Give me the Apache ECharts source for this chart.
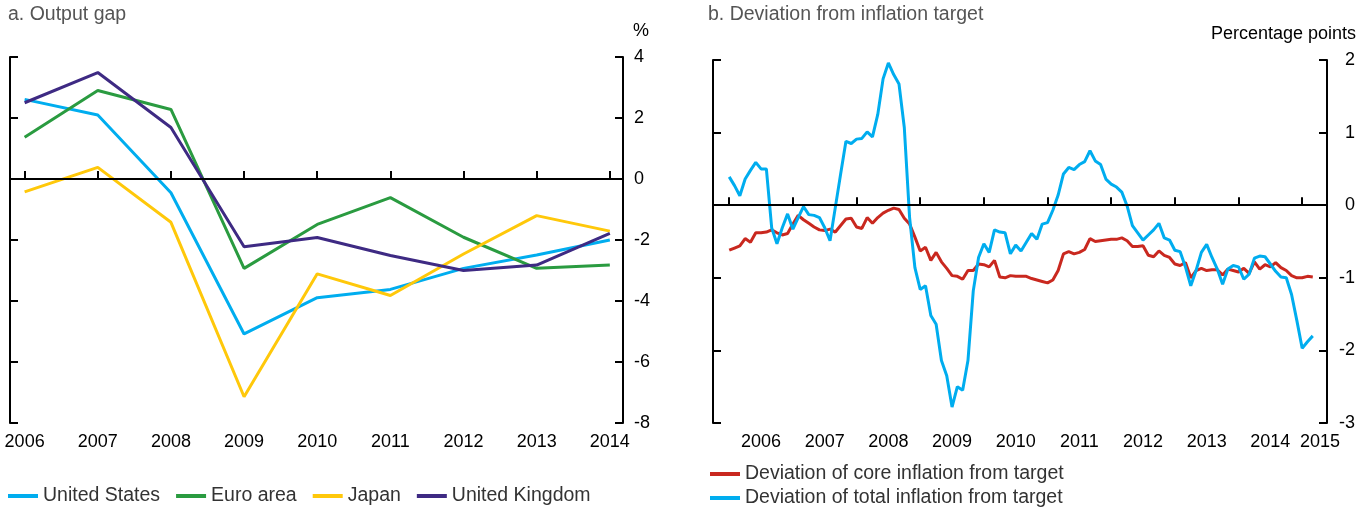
<!DOCTYPE html>
<html>
<head>
<meta charset="utf-8">
<script src="https://cdn.jsdelivr.net/npm/echarts@6/dist/echarts.min.js"></script>
<style>
  html, body { margin: 0; padding: 0; background: #fff; }
  #chart { width: 1367px; height: 508px; }
</style>
</head>
<body>
<div id="chart"></div>
<script>
// panel a: output gap, annual
var years = [2006, 2007, 2008, 2009, 2010, 2011, 2012, 2013, 2014];
var unitedStates = [2.61, 2.10, -0.45, -5.08, -3.89, -3.62, -2.93, -2.49, -2.00];
var euroArea = [1.37, 2.90, 2.28, -2.93, -1.49, -0.61, -1.91, -2.93, -2.82];
var japan = [-0.42, 0.38, -1.42, -7.14, -3.11, -3.82, -2.46, -1.20, -1.71];
var unitedKingdom = [2.50, 3.49, 1.69, -2.22, -1.92, -2.51, -3.00, -2.82, -1.78];

// panel b: monthly deviation from target, Jan 2006 - Mar 2015
var monthStart = 2006;
var coreDeviation = [
  -0.62, -0.59, -0.56, -0.46, -0.51, -0.38, -0.38, -0.37, -0.34, -0.38, -0.41, -0.39,
  -0.26, -0.14, -0.20, -0.25, -0.30, -0.34, -0.35, -0.33, -0.37, -0.28, -0.19, -0.18,
  -0.30, -0.32, -0.17, -0.25, -0.17, -0.11, -0.07, -0.04, -0.06, -0.18, -0.26, -0.44,
  -0.63, -0.58, -0.76, -0.65, -0.78, -0.87, -0.97, -0.98, -1.02, -0.90, -0.90, -0.81,
  -0.82, -0.85, -0.76, -0.99, -1.00, -0.97, -0.98, -0.98, -0.98, -1.01, -1.03, -1.05,
  -1.07, -1.03, -0.90, -0.67, -0.64, -0.67, -0.65, -0.61, -0.46, -0.50, -0.49, -0.48,
  -0.47, -0.47, -0.45, -0.49, -0.57, -0.57, -0.56, -0.69, -0.71, -0.63, -0.69, -0.72,
  -0.81, -0.83, -0.79, -1.00, -0.90, -0.87, -0.90, -0.89, -0.89, -0.96, -0.88, -0.90,
  -0.92, -0.87, -0.94, -0.78, -0.88, -0.82, -0.85, -0.79, -0.86, -0.90, -0.97, -1.00,
  -1.00, -0.98, -0.99
];
var totalDeviation = [
  0.39, 0.27, 0.13, 0.36, 0.48, 0.59, 0.50, 0.50, -0.31, -0.53, -0.31, -0.12,
  -0.33, -0.17, -0.02, -0.13, -0.14, -0.17, -0.31, -0.49, -0.03, 0.43, 0.88, 0.85,
  0.91, 0.92, 1.01, 0.94, 1.25, 1.74, 1.96, 1.80, 1.67, 1.07, -0.17, -0.86,
  -1.16, -1.11, -1.52, -1.64, -2.14, -2.35, -2.78, -2.50, -2.55, -2.14, -1.18, -0.72,
  -0.53, -0.65, -0.34, -0.37, -0.38, -0.67, -0.55, -0.63, -0.51, -0.39, -0.47, -0.26,
  -0.24, -0.07, 0.14, 0.43, 0.52, 0.49, 0.56, 0.60, 0.75, 0.61, 0.56, 0.36,
  0.29, 0.25, 0.18, -0.01, -0.28, -0.38, -0.48, -0.41, -0.34, -0.25, -0.45, -0.48,
  -0.62, -0.64, -0.85, -1.11, -0.90, -0.65, -0.54, -0.72, -0.88, -1.09, -0.88, -0.83,
  -0.85, -1.02, -0.95, -0.73, -0.70, -0.71, -0.81, -0.91, -0.99, -1.00, -1.23, -1.59,
  -1.97, -1.88, -1.80
];
var yearTicksB = [2006, 2007, 2008, 2009, 2010, 2011, 2012, 2013, 2014, 2015];
var yearLabelsB = [2006.5, 2007.5, 2008.5, 2009.5, 2010.5, 2011.5, 2012.5, 2013.5, 2014.5, 2015.28];

function annual(values) {
    return years.map(function (y, i) { return [y, values[i]]; });
}
function monthly(values) {
    return values.map(function (v, i) { return [monthStart + i / 12, v]; });
}

var font = "'Liberation Sans', Arial, sans-serif";
var axisLine = { show: true, lineStyle: { color: '#000', width: 2 } };
var tick = { show: true, inside: true, length: 8, lineStyle: { color: '#000', width: 2 } };
var tickLabel = { color: '#000', fontSize: 18, fontFamily: font };
var legendText = { fontSize: 19.5, color: '#333', fontFamily: font };
var zeroLine = {
    silent: true, symbol: 'none', label: { show: false },
    lineStyle: { color: '#000', width: 2, type: 'solid' },
    data: [{ yAxis: 0 }]
};

function lineSeries(name, data, color, xi, yi) {
    return {
        name: name, type: 'line', data: data,
        xAxisIndex: xi, yAxisIndex: yi,
        showSymbol: false, symbol: 'none',
        lineStyle: { color: color, width: 3 },
        itemStyle: { color: color },
        animation: false
    };
}

function oneLegend(name, left, top) {
    return {
        data: [name], left: left, top: top, padding: 0,
        icon: 'rect', itemWidth: 30, itemHeight: 4,
        textStyle: legendText
    };
}

var chart = echarts.init(document.getElementById('chart'));
var option = {
    animation: false,
    title: [
        { text: 'a. Output gap', left: 3, top: 0, textStyle: { fontSize: 19.5, fontWeight: 'normal', color: '#555', fontFamily: font } },
        { text: 'b. Deviation from inflation target', left: 703, top: 0, textStyle: { fontSize: 19.5, fontWeight: 'normal', color: '#555', fontFamily: font } },
        { text: '%', left: 628, top: 17, textStyle: { fontSize: 18, fontWeight: 'normal', color: '#000', fontFamily: font } },
        { text: 'Percentage points', right: 6, top: 20, textStyle: { fontSize: 18, fontWeight: 'normal', color: '#000', fontFamily: font } }
    ],
    legend: [
        {
            data: ['United States', 'Euro area', 'Japan', 'United Kingdom'],
            left: 8, top: 486, orient: 'horizontal', padding: 0,
            icon: 'rect', itemWidth: 30, itemHeight: 4, itemGap: 16,
            textStyle: legendText
        },
        oneLegend('Deviation of core inflation from target', 710, 464),
        oneLegend('Deviation of total inflation from target', 710, 488)
    ],
    grid: [
        { left: 10, right: 744, top: 57, bottom: 85 },
        { left: 713, right: 40, top: 60, bottom: 85 }
    ],
    xAxis: [
        {
            type: 'value', gridIndex: 0, min: 2005.8, max: 2014.18,
            axisLine: axisLine, splitLine: { show: false },
            axisTick: Object.assign({ customValues: years }, tick),
            axisLabel: Object.assign({
                customValues: years, margin: 10,
                formatter: function (v) { return String(v); }
            }, tickLabel)
        },
        {
            type: 'value', gridIndex: 1, min: 2005.745, max: 2015.39,
            axisLine: axisLine, splitLine: { show: false },
            axisTick: Object.assign({ customValues: yearTicksB }, tick),
            axisLabel: Object.assign({
                customValues: yearLabelsB, margin: 10,
                formatter: function (v) { return String(Math.floor(v)); }
            }, tickLabel)
        }
    ],
    yAxis: [
        {
            type: 'value', gridIndex: 0, position: 'left', min: -8, max: 4, interval: 2,
            axisLine: axisLine, axisTick: tick, axisLabel: { show: false }, splitLine: { show: false }
        },
        {
            type: 'value', gridIndex: 0, position: 'right', min: -8, max: 4, interval: 2,
            axisLine: axisLine, axisTick: tick, splitLine: { show: false },
            axisLabel: Object.assign({ margin: 11 }, tickLabel)
        },
        {
            type: 'value', gridIndex: 1, position: 'left', min: -3, max: 2, interval: 1,
            axisLine: axisLine, axisTick: tick, axisLabel: { show: false }, splitLine: { show: false }
        },
        {
            type: 'value', gridIndex: 1, position: 'right', min: -3, max: 2, interval: 1,
            axisLine: axisLine, axisTick: tick, splitLine: { show: false },
            axisLabel: Object.assign({ margin: 28, align: 'right' }, tickLabel)
        }
    ],
    series: [
        Object.assign(lineSeries('United States', annual(unitedStates), '#00ADEF', 0, 1), { markLine: zeroLine }),
        lineSeries('Euro area', annual(euroArea), '#2A9B40', 0, 1),
        lineSeries('Japan', annual(japan), '#FFC80A', 0, 1),
        lineSeries('United Kingdom', annual(unitedKingdom), '#3E2A83', 0, 1),
        Object.assign(lineSeries('Deviation of core inflation from target', monthly(coreDeviation), '#C9281F', 1, 3), { markLine: zeroLine }),
        lineSeries('Deviation of total inflation from target', monthly(totalDeviation), '#00ADEF', 1, 3)
    ]
};
chart.setOption(option);
</script>
</body>
</html>
